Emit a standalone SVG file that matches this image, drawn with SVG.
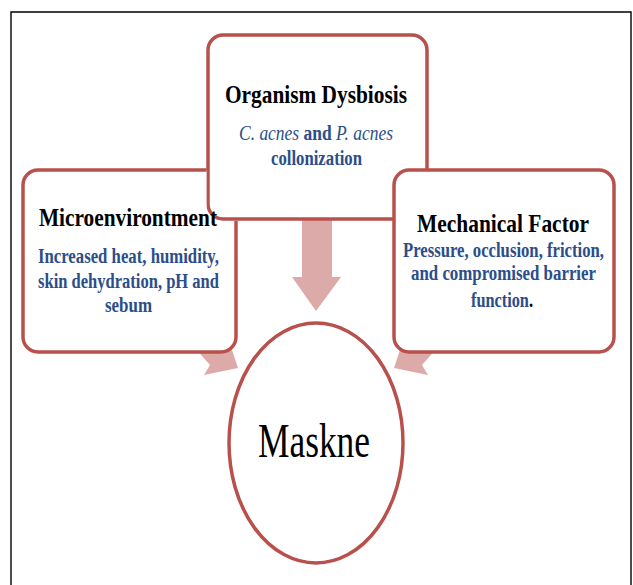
<svg xmlns="http://www.w3.org/2000/svg" width="633" height="585" viewBox="0 0 633 585">
<style>
.box{fill:#ffffff;stroke:#B8504C;stroke-width:3.5}
.arrow{fill:#DCAAA9;stroke:none}
.title{font-family:"Liberation Serif","Times New Roman",serif;font-weight:bold;font-size:25px;fill:#000000}
.body{font-family:"Liberation Serif","Times New Roman",serif;font-weight:bold;font-size:20px;fill:#2B4E8A}
.ital{font-weight:normal;font-style:italic}
.center{font-family:"Liberation Serif","Times New Roman",serif;font-size:48px;fill:#000000}
</style>
<defs>
<clipPath id="notTop">
<path clip-rule="evenodd" d="M0,0 H633 V585 H0 Z M206.5,30 H432 V221 H206.5 Z"/>
</clipPath>
</defs>
<rect x="0" y="0" width="633" height="585" fill="#ffffff"/>
<path d="M11,586 V12 H631 V586" fill="none" stroke="#000000" stroke-width="1.4"/>
<g id="connectors">
<polygon class="arrow" points="302,215 332,215 332,277 341,277 316,311 292,277 302,277"/>
<polygon class="arrow" points="170,320 210,365 204,375 238,368 226,332 185,290"/>
<polygon class="arrow" points="462,320 422,365 428,375 394,368 406,332 447,290"/>
</g>
<g id="node-organism">
<rect class="box" x="208" y="35" width="219" height="184" rx="15"/>
<text class="title" x="225" y="103" textLength="182" lengthAdjust="spacingAndGlyphs">Organism Dysbiosis</text>
<text class="body" x="239" y="140" textLength="154" lengthAdjust="spacingAndGlyphs"><tspan class="ital">C. acnes</tspan> and <tspan class="ital">P. acnes</tspan></text>
<text class="body" x="271" y="165" textLength="91" lengthAdjust="spacingAndGlyphs">collonization</text>
</g>
<g id="node-micro">
<rect class="box" x="23" y="170" width="213" height="182" rx="15" clip-path="url(#notTop)"/>
<text class="title" x="39" y="226" textLength="178" lengthAdjust="spacingAndGlyphs">Microenvirontment</text>
<text class="body" x="38" y="263" textLength="181" lengthAdjust="spacingAndGlyphs">Increased heat, humidity,</text>
<text class="body" x="38" y="288" textLength="181" lengthAdjust="spacingAndGlyphs">skin dehydration, pH and</text>
<text class="body" x="105" y="312" textLength="47" lengthAdjust="spacingAndGlyphs">sebum</text>
</g>
<g id="node-mechanical">
<rect class="box" x="394" y="170" width="220" height="182" rx="15"/>
<text class="title" x="417" y="232" textLength="172" lengthAdjust="spacingAndGlyphs">Mechanical Factor</text>
<text class="body" x="403" y="257" textLength="201" lengthAdjust="spacingAndGlyphs">Pressure, occlusion, friction,</text>
<text class="body" x="411" y="280" textLength="185" lengthAdjust="spacingAndGlyphs">and compromised barrier</text>
<text class="body" x="471" y="307" textLength="62" lengthAdjust="spacingAndGlyphs">function<tspan style="fill:#000000">.</tspan></text>
</g>
<g id="node-maskne">
<ellipse class="box" cx="316" cy="443" rx="87" ry="120"/>
<text class="center" x="258" y="457" textLength="112" lengthAdjust="spacingAndGlyphs">Maskne</text>
</g>
</svg>
